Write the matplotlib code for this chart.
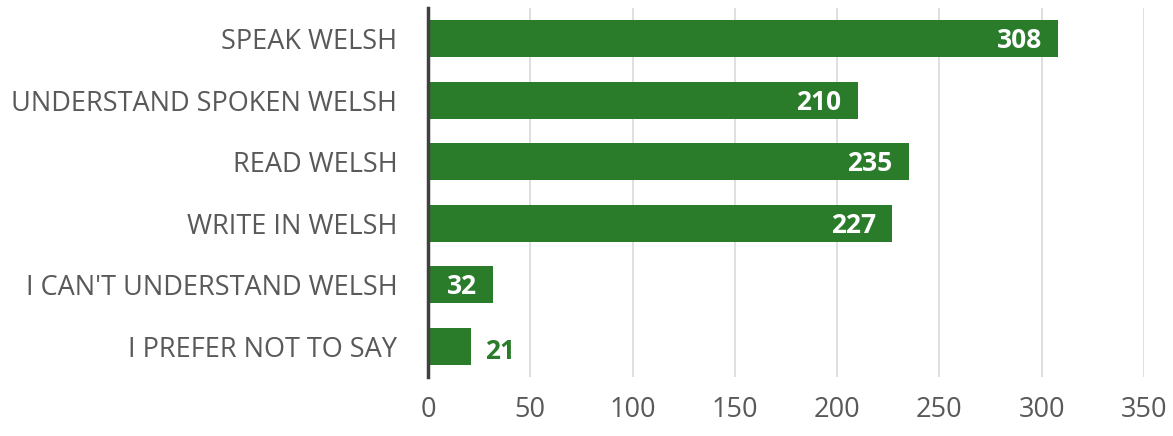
import matplotlib
matplotlib.use("Agg")
from matplotlib import pyplot as plt

categories = ["SPEAK WELSH", "UNDERSTAND SPOKEN WELSH", "READ WELSH",
              "WRITE IN WELSH", "I CAN'T UNDERSTAND WELSH", "I PREFER NOT TO SAY"]
values = [308, 210, 235, 227, 32, 21]
xticks = [0, 50, 100, 150, 200, 250, 300, 350]

green = "#2a7b2a"
grey = "#595959"

plt.rcParams['font.family'] = ['Open Sans', 'DejaVu Sans']

fig = plt.figure(figsize=(11.73, 4.36), dpi=100)
ax = fig.add_axes([428 / 1173, 1 - 377 / 436, (1144 - 428) / 1173, (377 - 8) / 436])

ypos = list(range(len(categories)))
ax.barh(ypos, values, height=0.6, color=green, zorder=2)
ax.set_ylim(len(categories) - 0.5, -0.5)
ax.set_xlim(0, 350)
ax.set_xticks(xticks)
ax.set_yticks(ypos)
ax.set_yticklabels(categories, fontsize=19.5, color=grey)
ax.tick_params(axis='x', labelsize=19.5, labelcolor=grey, length=0, pad=14)
ax.tick_params(axis='y', length=0, pad=22)
ax.grid(axis='x', color="#d9d9d9", linewidth=1.2, zorder=0)

for s in ['top', 'right', 'bottom']:
    ax.spines[s].set_visible(False)
ax.spines['left'].set_color("#404040")
ax.spines['left'].set_linewidth(2.5)
ax.spines['left'].set_zorder(3)

for y, v in zip(ypos, values):
    if v >= 30:
        ax.text(v - 8, y + 0.03, str(v), ha='right', va='center', color='white',
                fontsize=19, fontweight='bold', zorder=4)
    else:
        ax.text(v + 7, y + 0.08, str(v), ha='left', va='center', color=green,
                fontsize=19, fontweight='bold', zorder=4)

fig.savefig("out.png", dpi=100)
